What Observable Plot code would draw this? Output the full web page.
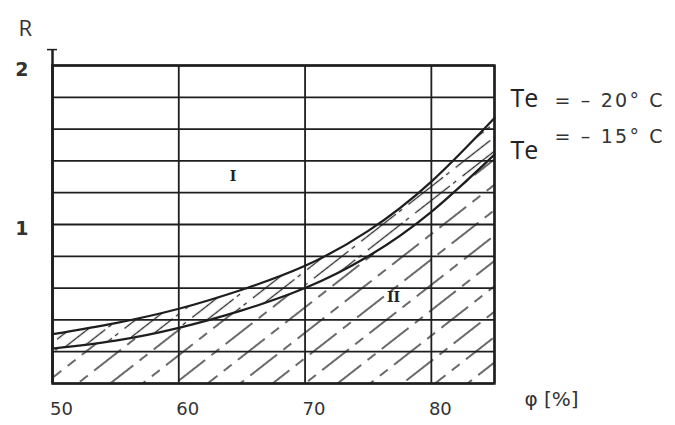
<!DOCTYPE html>
<html>
<head>
<meta charset="utf-8">
<script src="https://cdn.jsdelivr.net/npm/d3@7"></script>
<script src="https://cdn.jsdelivr.net/npm/@observablehq/plot@0.6"></script>
<style>
  html, body { margin: 0; padding: 0; background: #fff; }
  #chart { width: 675px; height: 425px; }
</style>
</head>
<body>
<div id="chart"></div>
<script>
// Relative humidity φ [%]
const phi = [50, 55, 60, 65, 70, 75, 80, 85];
// R for Te = -20 °C (upper curve) and Te = -15 °C (lower curve)
const rTe20 = [0.31, 0.38, 0.47, 0.59, 0.74, 0.96, 1.27, 1.67];
const rTe15 = [0.22, 0.27, 0.35, 0.46, 0.60, 0.80, 1.08, 1.44];
const xTicks = [50, 60, 70, 80];
const yTickLabels = [1, 2];
const yGrid = [0, 0.2, 0.4, 0.6, 0.8, 1.0, 1.2, 1.4, 1.6, 1.8, 2.0];
const xGrid = [50, 60, 70, 80, 85];
const seriesLabels = [
  {name: "Te", value: "= – 20° C", r: 1.79, rv: 1.78},
  {name: "Te", value: "= – 15° C", r: 1.46, rv: 1.55}
];
const regionLabels = [
  {x: 64.3, r: 1.30, text: "I"},
  {x: 77.0, r: 0.54, text: "II"}
];

const upper = phi.map((p, i) => ({phi: p, r: rTe20[i]}));
const lower = phi.map((p, i) => ({phi: p, r: rTe15[i]}));
const between = phi.map((p, i) => ({phi: p, lo: rTe15[i], hi: rTe20[i]}));

const ink = "#1e1e1e";
const hand = "'DejaVu Sans', sans-serif";

const chart = Plot.plot({
  width: 675,
  height: 425,
  marginLeft: 52,
  marginRight: 181,
  marginTop: 65,
  marginBottom: 42,
  style: {background: "#fff", color: ink},
  x: {domain: [50, 85]},
  y: {domain: [0, 2]},
  marks: [
    // hatched areas
    Plot.areaY(lower, {x: "phi", y: "r", curve: "natural", fill: "url(#hatchA)"}),
    Plot.areaY(between, {x: "phi", y1: "lo", y2: "hi", curve: "natural", fill: "url(#hatchB)"}),
    // grid
    Plot.ruleY(yGrid, {stroke: ink, strokeWidth: 1.8}),
    Plot.ruleX(xGrid, {stroke: ink, strokeWidth: 1.8}),
    // axis line extended above the frame with top tick
    Plot.ruleX([50], {y1: 0, y2: 2.1, stroke: ink, strokeWidth: 2.5}),
    Plot.ruleY([2.1], {x1: 49.6, x2: 50.4, stroke: ink, strokeWidth: 1.5}),
    Plot.frame({stroke: ink, strokeWidth: 2.5}),
    // curves
    Plot.line(upper, {x: "phi", y: "r", curve: "natural", stroke: ink, strokeWidth: 2.2}),
    Plot.line(lower, {x: "phi", y: "r", curve: "natural", stroke: ink, strokeWidth: 2.2}),
    // axes
    Plot.axisY(yTickLabels, {tickSize: 0, tickPadding: 24, tickFormat: d => String(d), dy: 4, fontSize: 19, fontWeight: "bold", fontFamily: hand, fill: "#333", label: null}),
    Plot.axisX(xTicks, {tickSize: 0, tickPadding: 19, dx: 9, fontSize: 18, fontFamily: hand, fill: "#333", label: null}),
    Plot.text(["φ [%]"], {frameAnchor: "bottom-right", dx: 57, dy: 22, fontSize: 20, fontFamily: hand, fill: "#333", textAnchor: "middle"}),
    Plot.text(["R"], {frameAnchor: "top-left", dx: -34, dy: -45, fontSize: 22, fontFamily: "'Open Sans', sans-serif", fill: "#333"}),
    // series labels
    Plot.text(seriesLabels, {x: 85, y: "r", text: "name", dx: 16, textAnchor: "start", fontSize: 25, fontFamily: "'Open Sans', sans-serif", fill: "#222"}),
    Plot.text(seriesLabels, {x: 85, y: "rv", text: "value", dx: 60, textAnchor: "start", fontSize: 19, fontFamily: hand, fill: "#333"}),
    // region labels
    Plot.text(regionLabels, {x: "x", y: "r", text: "text", fontSize: 14, fontWeight: "bold", fontFamily: "'DejaVu Serif', serif", fill: "#222"})
  ]
});

// wider, hand-lettered spacing for the temperature values
chart.querySelectorAll("text").forEach(t => {
  if (t.textContent.includes("°")) t.setAttribute("letter-spacing", "2.2");
});

const ns = "http://www.w3.org/2000/svg";
const defs = document.createElementNS(ns, "defs");
function hatch(id, spacing, width, dash) {
  const p = document.createElementNS(ns, "pattern");
  p.setAttribute("id", id);
  p.setAttribute("patternUnits", "userSpaceOnUse");
  p.setAttribute("width", spacing);
  p.setAttribute("height", 60);
  p.setAttribute("patternTransform", "rotate(52)");
  const l = document.createElementNS(ns, "line");
  l.setAttribute("x1", spacing / 2); l.setAttribute("x2", spacing / 2);
  l.setAttribute("y1", 0); l.setAttribute("y2", 60);
  l.setAttribute("stroke", "#2a2a2a");
  l.setAttribute("stroke-width", width);
  if (dash) l.setAttribute("stroke-dasharray", dash);
  p.appendChild(l);
  defs.appendChild(p);
}
hatch("hatchA", 20, 1.4, "34 8 10 8");
hatch("hatchB", 11, 1.3, "44 8 4 4");
chart.insertBefore(defs, chart.firstChild);
document.getElementById("chart").appendChild(chart);
</script>
</body>
</html>
